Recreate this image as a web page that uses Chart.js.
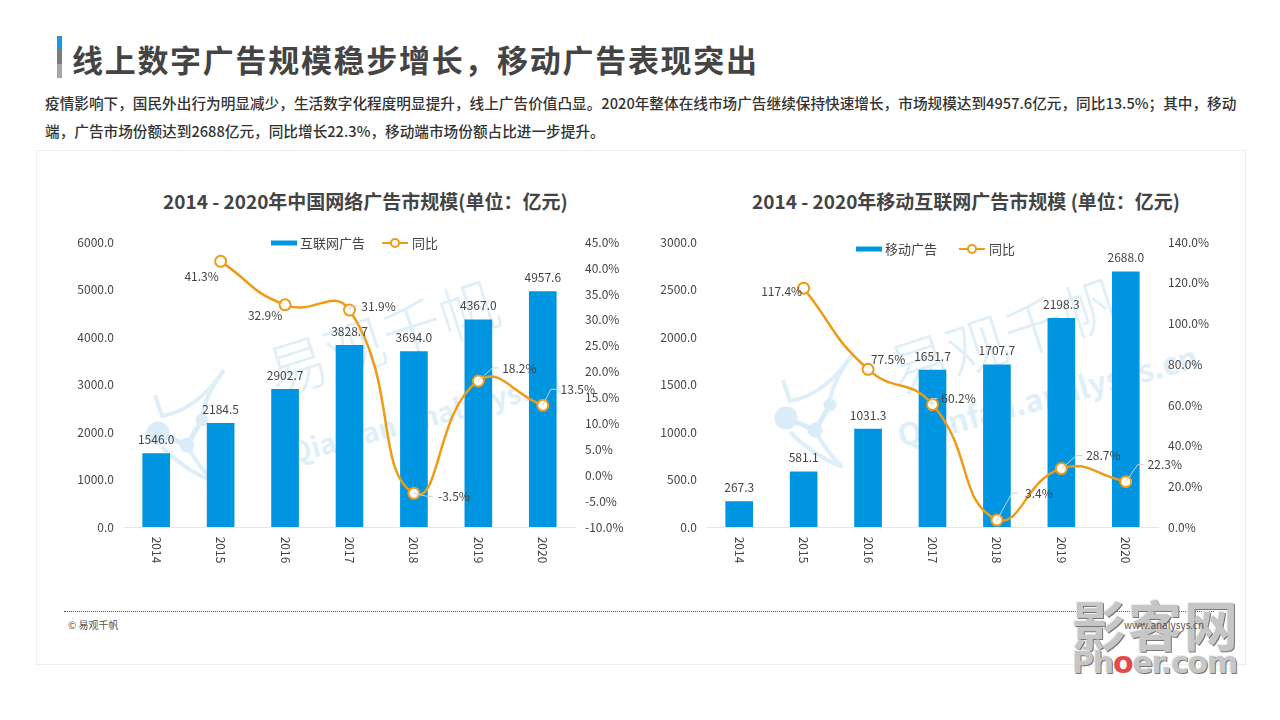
<!DOCTYPE html>
<html>
<head>
<meta charset="utf-8">
<script src="https://cdn.jsdelivr.net/npm/chart.js@4"></script>
<style>
  html, body { margin: 0; padding: 0; background: #fff; }
  body { width: 1280px; height: 720px; position: relative; overflow: hidden; font-family: "Noto Sans CJK SC", sans-serif; color: #444; }
  .abs { position: absolute; white-space: nowrap; }
  canvas { position: absolute; }
  .wm { color: #dfeff9; transform-origin: left center; line-height: 70px; }
  .phoer { color: #c6c6c6; font-weight: 700; text-shadow: 1px 1px 0 #777, -1px -1px 0 #eee; }
</style>
</head>
<body>
<div class="abs" style="left:57px;top:36px;width:5px;height:14px;background:#1a98dc"></div>
<div class="abs" style="left:57px;top:50px;width:5px;height:14px;background:#7d7d7d"></div>
<div class="abs" style="left:57px;top:64px;width:5px;height:14px;background:#a6a6a6"></div>
<div class="abs" style="left:72px;top:36px;font-size:31px;line-height:46px;font-weight:700;letter-spacing:1.7px;color:#444">线上数字广告规模稳步增长，移动广告表现突出</div>
<div class="abs" style="left:45px;top:93px;font-size:14.65px;line-height:20px;font-weight:500;color:#333">疫情影响下，国民外出行为明显减少，生活数字化程度明显提升，线上广告价值凸显。2020年整体在线市场广告继续保持快速增长，市场规模达到4957.6亿元，同比13.5%；其中，移动</div>
<div class="abs" style="left:45px;top:121px;font-size:14.65px;line-height:20px;font-weight:500;color:#333">端，广告市场份额达到2688亿元，同比增长22.3%，移动端市场份额占比进一步提升。</div>

<div class="abs" style="left:36px;top:150px;width:1208px;height:513px;border:1px solid #eeeeee"></div>

<!-- faint watermark behind the charts -->
<svg class="abs" style="left:0;top:0" width="1280" height="720">
  <defs>
    <g id="logo">
      <g fill="none" stroke="#dfeff9" stroke-width="4">
        <path d="M783 380 L790 401 Q825 395 852 355 Q832 382 829 405"/>
        <path d="M790 432 Q812 455 842 467 Q825 450 815 430"/>
      </g>
      <g stroke="#d9ecf8" stroke-width="5" fill="#d9ecf8">
        <circle cx="786" cy="418" r="9"/><circle cx="815" cy="430" r="5"/><circle cx="830" cy="405" r="4"/>
        <line x1="786" y1="418" x2="815" y2="430"/><line x1="815" y1="430" x2="830" y2="405"/>
      </g>
    </g>
  </defs>
  <use href="#logo"/>
  <use href="#logo" x="-628" y="15"/>
</svg>
<div class="abs wm" style="left:268px;top:337px;font-size:60px;font-weight:300;transform:rotate(-18deg)">易观千帆</div>
<div class="abs wm" style="left:290px;top:417px;font-size:28px;font-weight:700;transform:rotate(-15deg)">Qianfan.analysys.cn</div>
<div class="abs wm" style="left:890px;top:335px;font-size:60px;font-weight:300;transform:rotate(-18deg)">易观千帆</div>
<div class="abs wm" style="left:898px;top:400px;font-size:31px;font-weight:700;transform:rotate(-15deg)">Qianfan.analysys.cn</div>

<div class="abs" style="left:163px;top:186px;font-size:19px;line-height:30px;font-weight:700;color:#444">2014 - 2020年中国网络广告市规模(单位：亿元)</div>
<div class="abs" style="left:752px;top:186px;font-size:19px;line-height:30px;font-weight:700;color:#444">2014 - 2020年移动互联网广告市规模 (单位：亿元)</div>

<canvas id="chartLeft" width="570" height="345" style="left:60px;top:225px"></canvas>
<canvas id="chartRight" width="570" height="345" style="left:643px;top:225px"></canvas>

<div class="abs" style="left:64px;top:611px;width:1150px;border-top:1px dotted #555"></div>
<div class="abs" style="left:68px;top:618px;font-size:10px;line-height:14px;color:#555">© 易观千帆</div>

<div class="abs phoer" style="left:1072px;top:590px;font-size:54px;line-height:68px;letter-spacing:2px;">影客网</div>
<div class="abs phoer" style="left:1072px;top:642px;font-size:30px;line-height:42px;font-family:'DejaVu Sans';letter-spacing:-1.2px">Ph<span style="color:#e8474c;text-shadow:none">o</span>er.com</div>
<div class="abs" style="left:1124px;top:618px;font-size:10px;line-height:14px;color:#555">www.analysys.cn</div>

<script>
const years = ["2014", "2015", "2016", "2017", "2018", "2019", "2020"];

const netLabel = "互联网广告";
const netAds = [1546.0, 2184.5, 2902.7, 3828.7, 3694.0, 4367.0, 4957.6];
const netYoy = [null, 41.3, 32.9, 31.9, -3.5, 18.2, 13.5];

const mobileLabel = "移动广告";
const mobileAds = [267.3, 581.1, 1031.3, 1651.7, 1707.7, 2198.3, 2688.0];
const mobileYoy = [null, 117.4, 77.5, 60.2, 3.4, 28.7, 22.3];

const yoyLabel = "同比";

const BLUE = "#0095e0";
const ORANGE = "#ee9b18";
const TEXT = "#444444";
const FONT = '"Noto Sans CJK SC", sans-serif';

/* offsets of the yoy labels from their points, plus leader line on/off */
const netYoyOffsets = [null, [-19, 15, 0], [-20, 11, 0], [29, -4, 1], [40, 3, 1], [41, -13, 1], [35, -16, 1]];
const mobileYoyOffsets = [null, [-22, 3, 0], [20, -10, 0], [26, -6, 1], [42, -27, 1], [42, -13, 1], [39, -17, 1]];

function labelsPlugin(yoyOffsets, legendX) {
  return {
    id: "labels",
    afterDatasetsDraw(chart) {
      const ctx = chart.ctx;
      const bars = chart.getDatasetMeta(0).data;
      const points = chart.getDatasetMeta(1).data;
      ctx.save();
      ctx.textAlign = "center";
      ctx.textBaseline = "middle";
      ctx.font = "12px " + FONT;
      ctx.fillStyle = TEXT;

      // year labels, turned clockwise
      chart.scales.x.ticks.forEach((tick, i) => {
        ctx.save();
        ctx.translate(chart.scales.x.getPixelForTick(i), chart.chartArea.bottom + 23);
        ctx.rotate(Math.PI / 2);
        ctx.fillText(tick.label, 0, 0);
        ctx.restore();
      });

      bars.forEach((bar, i) => {
        ctx.fillText(chart.data.datasets[0].data[i].toFixed(1), bar.x, bar.y - 14);
      });

      points.forEach((pt, i) => {
        const off = yoyOffsets[i];
        if (!off) return;
        const lx = pt.x + off[0];
        const ly = pt.y + off[1];
        if (off[2]) {
          ctx.strokeStyle = "#cfcfcf";
          ctx.lineWidth = 1;
          ctx.beginPath();
          ctx.moveTo(pt.x, pt.y);
          ctx.lineTo(lx - 27, ly);
          ctx.lineTo(lx - 21, ly);
          ctx.stroke();
        }
        ctx.fillText(chart.data.datasets[1].data[i].toFixed(1) + "%", lx, ly);
      });

      // legend
      const ds = chart.data.datasets;
      const ly = legendX.y;
      ctx.textAlign = "left";
      ctx.font = "13px " + FONT;
      ctx.fillStyle = BLUE;
      ctx.fillRect(legendX.bar, ly - 2.5, 26, 5);
      ctx.fillStyle = TEXT;
      ctx.fillText(ds[0].label, legendX.bar + 29, ly);
      ctx.strokeStyle = ORANGE;
      ctx.lineWidth = 2;
      ctx.beginPath();
      ctx.moveTo(legendX.line, ly);
      ctx.lineTo(legendX.line + 26, ly);
      ctx.stroke();
      ctx.fillStyle = "#fff";
      ctx.beginPath();
      ctx.arc(legendX.line + 13, ly, 4, 0, Math.PI * 2);
      ctx.fill();
      ctx.stroke();
      ctx.fillStyle = TEXT;
      ctx.fillText(ds[1].label, legendX.line + 30, ly);
      ctx.restore();
    },
  };
}

function makeChart(id, barLabel, barData, lineData, leftMax, leftStep, rightMin, rightMax, rightStep, offsets, legendX) {
  return new Chart(document.getElementById(id), {
    type: "bar",
    data: {
      labels: years,
      datasets: [
        { type: "bar", label: barLabel, data: barData, backgroundColor: BLUE, barThickness: 27, yAxisID: "y", order: 2 },
        {
          type: "line", label: yoyLabel, data: lineData, yAxisID: "y2", order: 1,
          borderColor: ORANGE, borderWidth: 2.5, tension: 0.5,
          pointRadius: 5.5, pointBorderWidth: 2, pointBackgroundColor: "#fff", pointBorderColor: ORANGE,
        },
      ],
    },
    options: {
      responsive: false,
      animation: false,
      layout: { padding: { top: 17 } },
      plugins: { legend: { display: false }, tooltip: { enabled: false } },
      scales: {
        x: {
          grid: { display: false, drawTicks: false },
          border: { color: "#e4e7ea" },
          ticks: { display: false },
          afterFit(scale) { scale.height = 43; },
        },
        y: {
          position: "left", min: 0, max: leftMax,
          grid: { display: false, drawTicks: false },
          border: { display: false },
          ticks: { stepSize: leftStep, padding: 10, color: TEXT, font: { size: 12, family: FONT }, callback: (v) => v.toFixed(1) },
          afterFit(scale) { scale.width = 64; },
        },
        y2: {
          position: "right", min: rightMin, max: rightMax,
          grid: { display: false, drawTicks: false },
          border: { display: false },
          ticks: { stepSize: rightStep, padding: 10, color: TEXT, font: { size: 12, family: FONT }, callback: (v) => v.toFixed(1) + "%" },
          afterFit(scale) { scale.width = 55; },
        },
      },
    },
    plugins: [labelsPlugin(offsets, legendX)],
  });
}

makeChart("chartLeft", netLabel, netAds, netYoy, 6000, 1000, -10, 45, 5, netYoyOffsets, { bar: 211, line: 322, y: 18 });
makeChart("chartRight", mobileLabel, mobileAds, mobileYoy, 3000, 500, 0, 140, 20, mobileYoyOffsets, { bar: 213, line: 316, y: 24 });
</script>
</body>
</html>
